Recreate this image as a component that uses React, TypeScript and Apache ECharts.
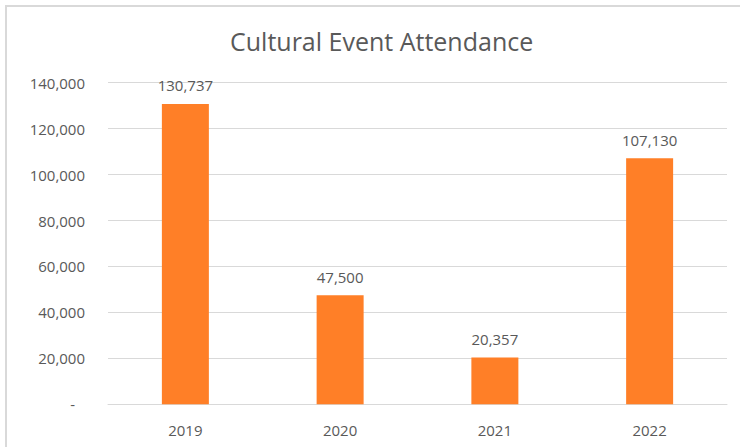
import React, { useEffect, useRef } from "react";
import * as echarts from "echarts";

const categories = ["2019", "2020", "2021", "2022"];
const attendance = [130737, 47500, 20357, 107130];
const yTicks = [0, 20000, 40000, 60000, 80000, 100000, 120000, 140000];
const titleText = "Cultural Event Attendance";

const FONT = "'Open Sans', 'Noto Sans', sans-serif";
const TEXT = "#595959";

function fmt(v: number): string {
  return v.toLocaleString("en-US");
}

export default function App() {
  const ref = useRef<HTMLDivElement>(null);
  useEffect(() => {
    if (!ref.current) return;
    const chart = echarts.init(ref.current, undefined, { renderer: "svg" });
    chart.setOption({
      animation: false,
      backgroundColor: "#ffffff",
      title: {
        text: titleText,
        left: 225,
        top: 23,
        textStyle: { fontFamily: FONT, fontSize: 25, fontWeight: "normal", color: TEXT },
      },
      graphic: [
        {
          type: "polyline",
          shape: { points: [[6, 447], [6, 6], [740, 6]] },
          style: { stroke: "#d9d9d9", lineWidth: 2, fill: "none" },
          silent: true,
        },
      ],
      grid: { left: 108, right: 13, top: 82.7, bottom: 42.7, containLabel: false },
      xAxis: {
        type: "category",
        data: categories,
        axisLine: { show: true, lineStyle: { color: "#d9d9d9", width: 1 } },
        axisTick: { show: false },
        axisLabel: { color: TEXT, fontFamily: FONT, fontSize: 15, margin: 18 },
      },
      yAxis: {
        type: "value",
        min: yTicks[0],
        max: yTicks[yTicks.length - 1],
        interval: yTicks[1] - yTicks[0],
        axisLine: { show: false },
        axisTick: { show: false },
        splitLine: { lineStyle: { color: "#d9d9d9", width: 1 } },
        axisLabel: {
          color: TEXT,
          fontFamily: FONT,
          fontSize: 15,
          margin: 23,
          formatter: (v: number) => (v === 0 ? "{z|-}" : fmt(v)),
          rich: { z: { color: TEXT, fontFamily: FONT, fontSize: 15, padding: [0, 10, 0, 0] } },
        },
      },
      series: [
        {
          type: "bar",
          data: attendance,
          barWidth: 47,
          itemStyle: { color: "#FF7F27" },
          label: {
            show: true,
            position: "top",
            distance: 11,
            color: TEXT,
            fontFamily: FONT,
            fontSize: 15,
            formatter: (p: any) => fmt(p.value),
          },
        },
      ],
    });
    return () => chart.dispose();
  }, []);
  return (
    <div
      ref={ref}
      style={{ position: "absolute", left: 0, top: 0, width: 740, height: 447 }}
    />
  );
}
